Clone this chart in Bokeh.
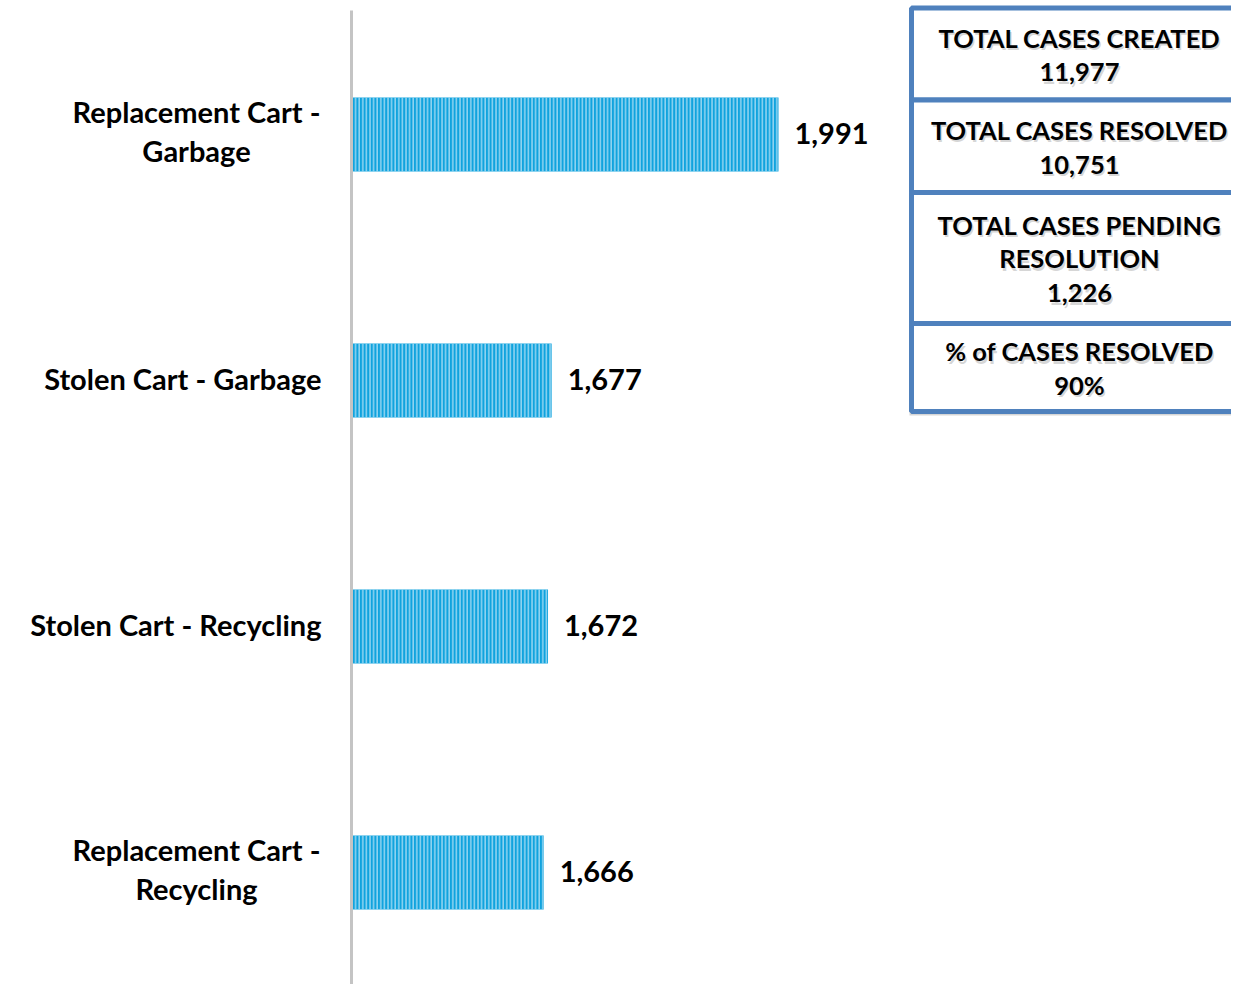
from bokeh.plotting import figure
from bokeh.models import Range1d, ColumnDataSource
from bokeh.core.properties import value
from bokeh.embed import file_html
from bokeh.resources import INLINE

# ---- data ----
categories = ["Replacement Cart -\nGarbage", "Stolen Cart - Garbage",
              "Stolen Cart - Recycling", "Replacement Cart -\nRecycling"]
counts = [1991, 1677, 1672, 1666]
count_labels = ["1,991", "1,677", "1,672", "1,666"]
axis_min = 1400
axis_max = 2618

kpi_titles = ["TOTAL CASES CREATED", "TOTAL CASES RESOLVED",
              "TOTAL CASES PENDING\nRESOLUTION", "% of CASES RESOLVED"]
kpi_values = ["11,977", "10,751", "1,226", "90%"]

FONT = "Lato"
W, H = 1231, 984
AXIS_PX = 351
n = len(categories)

p = figure(width=W, height=H, output_backend="svg", toolbar_location=None,
           x_range=Range1d(axis_min - (axis_max - axis_min) * AXIS_PX / (W - AXIS_PX), axis_max),
           y_range=Range1d(n - 0.5447, -0.5447),
           min_border=0, outline_line_color=None, x_axis_type=None, y_axis_type=None)
p.grid.visible = False
p.background_fill_color = "white"
p.border_fill_color = "white"
# pixel ranges for decorations
p.extra_x_ranges = {"px": Range1d(0, W)}
p.extra_y_ranges = {"py": Range1d(H, 0)}

ys = list(range(n))
src = ColumnDataSource(dict(y=ys, v=counts, lab=count_labels, cat=categories,
                            left=[axis_min] * n))

# bars
p.hbar(y="y", left="left", right="v", height=0.30, source=src,
       fill_color="#10a3de", line_color=None,
       hatch_pattern="|", hatch_color="#a8ddf4", hatch_scale=3.6, hatch_weight=1.3)

# value labels
p.text(x="v", y="y", text="lab", source=src, x_offset=16, y_offset=-1,
       text_font=value(FONT), text_font_style="bold", text_font_size="29px",
       text_color="black", text_baseline="middle", text_align="left")

# category axis line
p.segment(x0=[axis_min], x1=[axis_min], y0=[10], y1=[H], y_range_name="py",
          line_color="#c4c4c4", line_width=3)

# category labels: single-line right-aligned, multi-line centred lines
single = [c for c in categories if "\n" not in c]
multi = [c for c in categories if "\n" in c]
s_src = ColumnDataSource(dict(y=[categories.index(c) for c in single], t=single,
                              x=[321] * len(single)))
m_src = ColumnDataSource(dict(y=[categories.index(c) for c in multi], t=multi,
                              x=[196] * len(multi)))
p.text(x="x", y="y", text="t", source=s_src, x_range_name="px", y_offset=-2,
       text_font=value(FONT), text_font_style="bold", text_font_size="29px",
       text_color="black", text_baseline="middle", text_align="right")
p.text(x="x", y="y", text="t", source=m_src, x_range_name="px", y_offset=-3.5,
       text_font=value(FONT), text_font_style="bold", text_font_size="29px",
       text_color="black", text_baseline="middle", text_align="center",
       text_line_height=1.1)

# KPI boxes
tops = [7.5, 99.5, 192, 323]
bottoms = [99.5, 192, 323, 411]
k_src = ColumnDataSource(dict(
    top=tops, bottom=bottoms, left=[911] * 4, right=[1262] * 4,
    stop=[t + 3 for t in tops], sbottom=[b + 4 for b in bottoms],
    sleft=[909] * 4,
    cy=[(t + b) / 2 + 0.5 for t, b in zip(tops, bottoms)],
    cys=[(t + b) / 2 + 3 for t, b in zip(tops, bottoms)],
    cx=[1079] * 4, cxs=[1080.5] * 4,
    txt=[t + "\n" + v for t, v in zip(kpi_titles, kpi_values)]))
p.quad(left="sleft", right="right", top="stop", bottom="sbottom", source=k_src,
       x_range_name="px", y_range_name="py", fill_color="#8a8a8a", fill_alpha=0.35,
       line_color=None)
p.quad(left="left", right="right", top="top", bottom="bottom", source=k_src,
       x_range_name="px", y_range_name="py", fill_color="white",
       line_color="#4f81bd", line_width=5)
p.text(x="cxs", y="cys", text="txt", source=k_src, x_range_name="px", y_range_name="py",
       text_font=value(FONT), text_font_style="bold", text_font_size="25.5px",
       text_color="#888888", text_alpha=0.35, text_baseline="middle", text_align="center",
       text_line_height=1.13)
p.text(x="cx", y="cy", text="txt", source=k_src, x_range_name="px", y_range_name="py",
       text_font=value(FONT), text_font_style="bold", text_font_size="25.5px",
       text_color="black", text_baseline="middle", text_align="center",
       text_line_height=1.13)

open("out.html", "w").write(file_html(p, INLINE))
